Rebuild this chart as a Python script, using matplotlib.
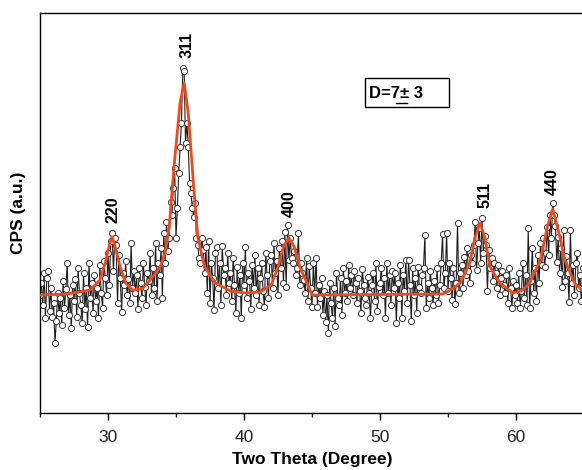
import numpy as np
import matplotlib
matplotlib.use('Agg')
import matplotlib.pyplot as plt
from matplotlib.patches import Rectangle
from matplotlib.lines import Line2D

plt.rcParams['font.family'] = ['Liberation Sans', 'DejaVu Sans']

# scan: 25.0 .. 64.9 deg, step 0.1 deg
theta_start = 25.0
theta_step = 0.1
counts = [
    118, 130, 108, 140, 95, 135, 142, 102, 125, 96,      # 25
    110, 70, 92, 120, 100, 115, 88, 132, 105, 124,       # 26
    150, 98, 118, 85, 128, 112, 134, 96, 145, 120,       # 27
    108, 90, 140, 104, 125, 86, 150, 115, 130, 100,      # 28
    138, 112, 125, 95, 148, 120, 105, 152, 135, 118,     # 29
    160, 128, 172, 180, 142, 175, 168, 110, 158, 135,    # 30
    101, 140, 128, 152, 118, 134, 110, 170, 125, 142,    # 31
    120, 138, 104, 145, 130, 115, 150, 126, 108, 140,    # 32
    132, 160, 118, 145, 125, 170, 112, 150, 138, 165,    # 33
    115, 180, 150, 191, 162, 175, 211, 198, 225, 245,    # 34
    175, 205, 240, 266, 290, 345, 342, 270, 290, 266,    # 35
    230, 220, 205, 196, 210, 175, 168, 155, 150, 175,    # 36
    163, 140, 166, 120, 172, 110, 150, 135, 103, 160,    # 37
    166, 125, 150, 108, 167, 138, 145, 118, 160, 130,    # 38
    140, 112, 155, 128, 100, 146, 120, 138, 95, 150,     # 39
    128, 166, 115, 140, 132, 104, 148, 125, 158, 118,    # 40
    145, 108, 135, 150, 122, 106, 160, 138, 115, 152,    # 41
    158, 125, 170, 140, 152, 118, 165, 145, 172, 130,    # 42
    181, 126, 188, 153, 175, 155, 150, 162, 138, 145,    # 43
    180, 128, 150, 140, 133, 120, 155, 112, 147, 125,    # 44
    106, 150, 120, 155, 106, 128, 115, 135, 98, 122,     # 45
    91, 118, 80, 130, 110, 95, 125, 87, 140, 115,        # 46
    108, 135, 98, 145, 120, 132, 112, 148, 125, 138,     # 47
    118, 142, 130, 110, 135, 122, 100, 144, 128, 115,    # 48
    108, 136, 120, 95, 128, 140, 112, 150, 102, 126,     # 49
    130, 145, 118, 135, 95, 150, 120, 138, 108, 142,     # 50
    125, 140, 90, 130, 115, 148, 95, 138, 122, 153,      # 51
    110, 153, 128, 92, 145, 118, 135, 100, 146, 126,     # 52
    120, 138, 145, 178, 105, 130, 115, 142, 125, 108,    # 53
    132, 118, 145, 110, 128, 150, 179, 125, 140, 180,    # 54
    122, 150, 135, 113, 145, 109, 130, 190, 120, 140,    # 55
    148, 125, 156, 138, 165, 142, 130, 158, 150, 168,    # 56
    191, 143, 170, 185, 150, 195, 160, 177, 168, 122,    # 57
    163, 145, 155, 132, 150, 140, 125, 148, 118, 135,    # 58
    142, 128, 120, 138, 110, 145, 125, 105, 132, 118,    # 59
    128, 110, 140, 105, 122, 150, 115, 138, 108, 185,    # 60
    105, 132, 165, 120, 145, 112, 158, 130, 170, 148,    # 61
    175, 146, 160, 186, 158, 198, 175, 210, 198, 187,    # 62
    151, 176, 140, 165, 126, 183, 132, 157, 140, 111,    # 63
    183, 130, 148, 118, 150, 160, 125, 138, 112, 145,    # 64
]
two_theta = np.round(theta_start + theta_step * np.arange(len(counts)), 2)

# fitted profile
fit_theta = [25.0, 27.0, 28.7, 29.4, 29.8, 30.1, 30.3, 30.5, 30.9, 31.3, 31.8,
             32.5, 33.1, 33.8, 34.2, 34.5, 34.9, 35.3, 35.6, 35.9, 36.3, 36.6,
             37.1, 37.9, 39.0, 40.1, 41.2, 42.0, 42.5, 42.9, 43.3, 43.7, 44.1,
             44.6, 45.0, 54.6, 55.2, 55.9, 56.6, 57.0, 57.35, 57.7, 58.1, 58.8,
             59.8, 60.5, 61.0, 61.8, 62.3, 62.7, 63.1, 63.6, 64.3, 65.0]
fit_int = [118, 119, 123, 133, 150, 168, 176, 168, 146, 130, 123,
           124, 133, 145, 160, 186, 253, 310, 330, 300, 226, 176,
           146, 130, 122, 120, 121, 128, 146, 166, 175, 166, 146,
           131, 118, 119, 123, 130, 150, 176, 190, 176, 146, 130,
           120, 123, 130, 153, 186, 204, 183, 153, 130, 121]

peak_labels = ['220', '311', '400', '511', '440']
peak_pos = [30.4, 35.8, 43.3, 57.7, 62.7]
peak_label_y = [190, 355, 196, 205, 218]

fig = plt.figure(figsize=(5.82, 4.70), dpi=100)
ax = fig.add_axes([40/582, 57/470, 544/582, 400/470])

ax.plot(two_theta, counts, '-', color='#1e1e1e', lw=0.8, marker='o', ms=4.4,
        mfc='white', mec='#333333', mew=0.7, zorder=2)
ax.plot(fit_theta, fit_int, '-', color='#f04a1c', lw=2.0, zorder=3)

for lab, px, py in zip(peak_labels, peak_pos, peak_label_y):
    ax.text(px, py, lab, rotation=90, ha='center', va='bottom',
            fontsize=11.5, fontweight='bold')

ax.set_xlim(25, 65)
ax.set_ylim(0, 400)
ax.set_xticks([30, 40, 50, 60])
ax.set_xticks([25, 35, 45, 55, 65], minor=True)
ax.set_yticks([])
ax.tick_params(axis='x', which='major', length=5, width=1, labelsize=12.5,
               direction='out', pad=7, labelcolor='#222222')
ax.tick_params(axis='x', which='minor', length=3, width=1)
ax.spines['right'].set_visible(False)
for s in ['left', 'top', 'bottom']:
    ax.spines[s].set_linewidth(1.0)

ax.set_xlabel('Two Theta (Degree)', fontsize=12.5, fontweight='bold', labelpad=5)
ax.set_ylabel('CPS (a.u.)', fontsize=12.5, fontweight='bold', labelpad=10)

# crystallite size box
W, H = 582, 470
fig.patches.append(Rectangle((365/W, 1 - 107/H), 84/W, 29/H, transform=fig.transFigure,
                             fill=False, ec='black', lw=1.0))
fig.text(369/W, 1 - 93/H, 'D=7\u00b1 3', fontsize=12, fontweight='bold',
         va='center', ha='left')
fig.lines.append(Line2D([396/W, 407/W], [1 - 103/H, 1 - 103/H], transform=fig.transFigure,
                        color='black', lw=1.0))

fig.savefig('out.png', dpi=100)
